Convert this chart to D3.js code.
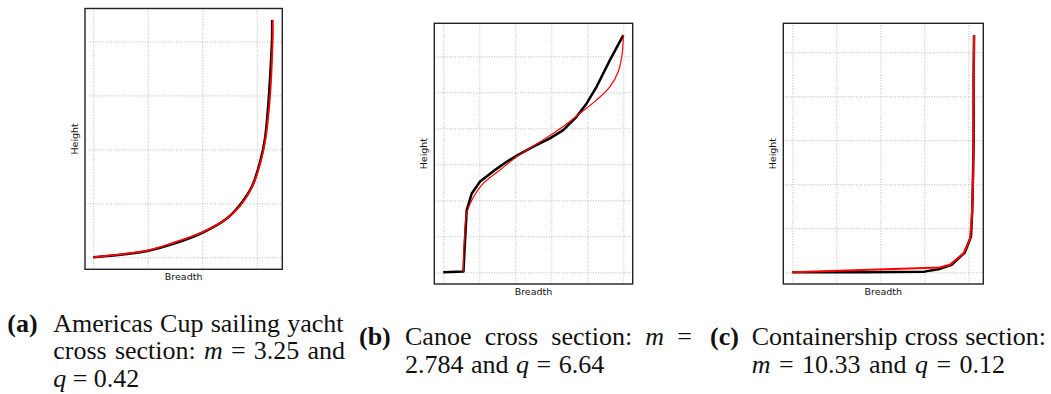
<!DOCTYPE html>
<html><head><meta charset="utf-8">
<script src="https://cdn.jsdelivr.net/npm/d3@7"></script>
<style>
body{margin:0;background:#fff;}
svg{display:block;}
.grid line{stroke:#a8a8a8;stroke-width:0.8;stroke-dasharray:1,1.6;}
.grid path{display:none;}
.cap{font-family:"Liberation Serif","Times New Roman",serif;font-size:26px;fill:#111;}
.lbl{font-family:"DejaVu Sans",sans-serif;font-size:9.5px;fill:#111;}
</style></head>
<body><svg id="c" width="1051" height="394"></svg>
<script>
// ---- Panel (a): Americas Cup sailing yacht ----
const aBreadthMeasured = [0, 0.61, 1.01, 1.41, 2.01, 2.45, 2.69, 2.91, 3.06, 3.15, 3.21, 3.25, 3.28, 3.28];
const aHeightMeasured  = [0, 0.06, 0.12, 0.23, 0.46, 0.72, 0.97, 1.31, 1.77, 2.20, 2.82, 3.44, 4.06, 4.40];
const aBreadthModel    = [0, 0.61, 1.01, 1.41, 2.01, 2.45, 2.69, 2.91, 3.06, 3.16, 3.23, 3.27, 3.29, 3.29];
const aHeightModel     = [0, 0.07, 0.13, 0.25, 0.47, 0.72, 0.95, 1.30, 1.73, 2.20, 2.82, 3.44, 4.06, 4.40];
const aGridX = [0, 1, 2, 3];
const aGridY = [0, 1, 2, 3, 4];

// ---- Panel (b): Canoe ----
const bBreadthMeasured = [0, 0.56, 0.60, 0.65, 0.79, 1.02, 1.39, 1.76, 2.04, 2.50, 2.96, 3.33, 3.70, 3.98, 4.26, 4.63, 5.0];
const bHeightMeasured  = [0, 0.02, 0.81, 1.73, 2.19, 2.52, 2.81, 3.07, 3.24, 3.49, 3.72, 3.95, 4.32, 4.69, 5.16, 5.90, 6.59];
const bBreadthModel    = [0.56, 0.58, 0.65, 0.79, 1.11, 1.57, 2.04, 2.78, 3.33, 3.80, 4.26, 4.63, 4.86, 4.97, 5.0];
const bHeightModel     = [0.02, 0.81, 1.63, 2.00, 2.47, 2.84, 3.21, 3.68, 4.05, 4.42, 4.79, 5.16, 5.58, 6.09, 6.59];
const bGridX = [0, 1, 2, 3, 4, 5];
const bGridY = [0, 1, 2, 3, 4, 5, 6];

// ---- Panel (c): Containership ----
const cBreadthMeasured = [0, 1.65, 3.00, 3.32, 3.62, 3.92, 4.06, 4.09, 4.12, 4.12, 4.13];
const cHeightMeasured  = [0, 0, 0.015, 0.068, 0.17, 0.45, 0.81, 1.42, 2.93, 4.45, 5.39];
const cBreadthModel    = [0, 3.35, 3.58, 3.89, 4.04, 4.08, 4.11, 4.12, 4.13];
const cHeightModel     = [0, 0.11, 0.17, 0.43, 0.77, 1.27, 2.17, 3.69, 5.39];
const cGridX = [0, 1, 2, 3, 4];
const cGridY = [0, 1, 2, 3, 4, 5];

const xLabel = "Breadth", yLabel = "Height";

const svg = d3.select("#c");

const panels = [
  {frame:[85,8.5,282.3,269.3], xd:[-0.152,3.468], yd:[-0.222,4.611], gx:aGridX, gy:aGridY,
   mx:aBreadthMeasured, my:aHeightMeasured, px:aBreadthModel, py:aHeightModel, redW:1.8, smoothBlack:true, smoothRed:true},
  {frame:[434.3,23.3,632.7,284], xd:[-0.25,5.26], yd:[-0.325,6.917], gx:bGridX, gy:bGridY,
   mx:bBreadthMeasured, my:bHeightMeasured, px:bBreadthModel, py:bHeightModel, redW:1.2, smoothBlack:false, smoothRed:true},
  {frame:[783.3,23.3,983.3,284], xd:[-0.205,4.34], yd:[-0.266,5.66], gx:cGridX, gy:cGridY,
   mx:cBreadthMeasured, my:cHeightMeasured, px:cBreadthModel, py:cHeightModel, redW:2.0, smoothBlack:false, smoothRed:false}
];

panels.forEach(p => {
  const [l,t,r,b] = p.frame;
  const x = d3.scaleLinear().domain(p.xd).range([l,r]);
  const y = d3.scaleLinear().domain(p.yd).range([b,t]);
  const g = svg.append("g");
  g.append("g").attr("class","grid").attr("transform",`translate(0,${b})`)
    .call(d3.axisBottom(x).tickValues(p.gx).tickSize(-(b-t)).tickFormat(""));
  g.append("g").attr("class","grid").attr("transform",`translate(${l},0)`)
    .call(d3.axisLeft(y).tickValues(p.gy).tickSize(-(r-l)).tickFormat(""));
  const meas = p.mx.map((v,i)=>[v,p.my[i]]);
  const mod = p.px.map((v,i)=>[v,p.py[i]]);
  const lineB = d3.line().x(d=>x(d[0])).y(d=>y(d[1]))
    .curve(p.smoothBlack ? d3.curveCatmullRom.alpha(0.5) : d3.curveLinear);
  const lineR = d3.line().x(d=>x(d[0])).y(d=>y(d[1]))
    .curve(p.smoothRed ? d3.curveCatmullRom.alpha(0.5) : d3.curveLinear);
  g.append("path").attr("d",lineB(meas)).attr("fill","none").attr("stroke","#000")
    .attr("stroke-width",2.5).attr("stroke-linejoin","round");
  g.append("path").attr("d",lineR(mod)).attr("fill","none").attr("stroke","#ff0000")
    .attr("stroke-width",p.redW).attr("stroke-linejoin","round");
  g.append("rect").attr("x",l).attr("y",t).attr("width",r-l).attr("height",b-t)
    .attr("fill","none").attr("stroke","#222").attr("stroke-width",1.4);
  g.append("text").attr("class","lbl").attr("x",(l+r)/2).attr("y",b+11)
    .attr("text-anchor","middle").text(xLabel);
  g.append("text").attr("class","lbl").attr("transform",`translate(${l-7},${(t+b)/2}) rotate(-90)`)
    .attr("text-anchor","middle").text(yLabel);
});

// ---- Captions ----
const R = "r", I = "i", B = "b";
const captions = [
  {tag:"(a)", tagX:7.3, x0:53.3, lines:[
    {y:331.5, x1:343.5, words:[[["Americas",R]],[["Cup",R]],[["sailing",R]],[["yacht",R]]]},
    {y:359.3, x1:345, words:[[["cross",R]],[["section:",R]],[["m",I]],[["=",R]],[["3.25",R]],[["and",R]]]},
    {y:387, x1:139.3, words:[[["q",I]],[["=",R]],[["0.42",R]]]}
  ]},
  {tag:"(b)", tagX:359, x0:405, lines:[
    {y:345, x1:692, words:[[["Canoe",R]],[["cross",R]],[["section:",R]],[["m",I]],[["=",R]]]},
    {y:372.7, x1:604.3, words:[[["2.784",R]],[["and",R]],[["q",I]],[["=",R]],[["6.64",R]]]}
  ]},
  {tag:"(c)", tagX:710, x0:751.7, lines:[
    {y:345, x1:1046, words:[[["Containership",R]],[["cross",R]],[["section:",R]]]},
    {y:372.7, x1:1005, words:[[["m",I]],[["=",R]],[["10.33",R]],[["and",R]],[["q",I]],[["=",R]],[["0.12",R]]]}
  ]}
];

captions.forEach(c => {
  const cg = svg.append("g");
  cg.append("text").attr("class","cap").attr("x",c.tagX).attr("y",c.lines[0].y)
    .attr("font-weight","bold").text(c.tag);
  c.lines.forEach(ln => {
    const nodes = ln.words.map(w => {
      const t = cg.append("text").attr("class","cap").attr("y",ln.y);
      w.forEach(([s,st]) => {
        const ts = t.append("tspan").text(s);
        if (st === I) ts.attr("font-style","italic");
        if (st === B) ts.attr("font-weight","bold");
      });
      return t;
    });
    const widths = nodes.map(n => n.node().getComputedTextLength());
    const total = d3.sum(widths);
    const gap = nodes.length > 1 ? (ln.x1 - c.x0 - total)/(nodes.length-1) : 0;
    let xx = c.x0;
    nodes.forEach((n,i) => { n.attr("x", xx); xx += widths[i] + gap; });
  });
});
</script>
</body></html>
